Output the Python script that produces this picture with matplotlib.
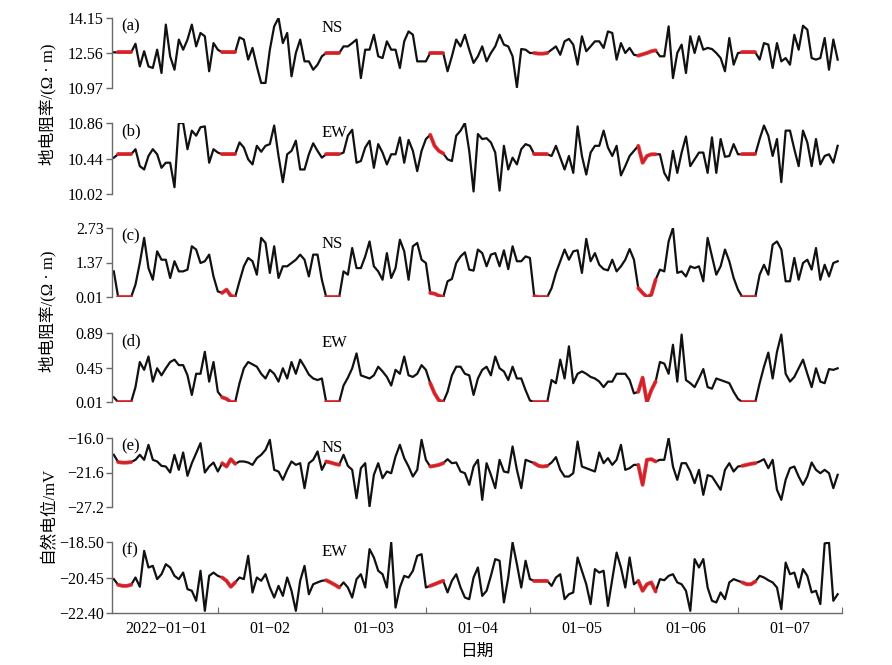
import pandas as pd
import matplotlib
matplotlib.use("Agg")
import matplotlib.pyplot as plt

plt.rcParams['font.family'] = ['Liberation Serif', 'Noto Sans CJK SC']

# hourly readings, 2022-01-01 00:00 .. 2022-01-07 23:00 (one row per day)
ns_rho = [
    12.59, 12.59, 12.59, 12.59, 12.59, 12.98, 11.95, 12.64, 11.95, 11.88, 12.71, 11.65, 13.85, 12.41, 11.80, 13.17, 12.71, 13.17, 13.85, 12.86, 13.47, 13.32, 11.73, 13.01,
    12.71, 12.59, 12.59, 12.59, 12.59, 13.27, 13.17, 12.26, 12.79, 11.95, 11.20, 11.20, 12.71, 13.77, 14.15, 13.01, 13.47, 11.50, 12.56, 13.17, 12.18, 12.18, 11.80, 12.03,
    12.41, 12.56, 12.56, 12.56, 12.56, 12.86, 12.86, 13.01, 13.17, 11.42, 12.71, 12.71, 13.39, 12.41, 12.33, 13.09, 12.71, 12.71, 11.88, 13.09, 13.54, 13.39, 12.18, 12.18,
    12.18, 12.56, 12.56, 12.56, 12.56, 11.73, 12.41, 13.17, 12.86, 13.39, 12.71, 12.11, 12.41, 12.86, 12.18, 12.56, 12.86, 13.39, 12.94, 12.86, 12.41, 11.00, 12.74, 12.71,
    12.56, 12.56, 12.53, 12.53, 12.56, 12.71, 12.86, 12.48, 13.09, 13.20, 12.94, 12.03, 13.32, 12.64, 12.86, 13.09, 13.09, 12.79, 13.54, 13.47, 12.26, 13.01, 12.56, 12.79,
    12.48, 12.44, 12.50, 12.56, 12.64, 12.68, 12.41, 12.41, 13.77, 11.42, 12.56, 12.94, 11.65, 13.32, 12.56, 13.32, 12.71, 12.79, 12.74, 12.56, 12.33, 11.73, 13.24, 12.03,
    12.56, 12.59, 12.59, 12.59, 12.59, 12.26, 13.01, 12.94, 11.88, 13.01, 12.18, 12.33, 12.03, 13.39, 12.71, 13.80, 13.62, 12.33, 12.26, 12.33, 13.24, 11.80, 13.17, 12.26,
]
ew_rho = [
    10.45, 10.49, 10.49, 10.49, 10.49, 10.55, 10.35, 10.31, 10.47, 10.55, 10.49, 10.33, 10.39, 10.39, 10.10, 10.86, 10.86, 10.55, 10.77, 10.71, 10.81, 10.82, 10.39, 10.55,
    10.51, 10.49, 10.49, 10.49, 10.49, 10.63, 10.57, 10.43, 10.37, 10.59, 10.52, 10.59, 10.61, 10.83, 10.47, 10.16, 10.49, 10.53, 10.65, 10.31, 10.31, 10.49, 10.62, 10.53,
    10.45, 10.49, 10.49, 10.49, 10.49, 10.51, 10.71, 10.78, 10.39, 10.41, 10.57, 10.65, 10.33, 10.61, 10.51, 10.37, 10.49, 10.49, 10.69, 10.39, 10.66, 10.53, 10.29, 10.53,
    10.67, 10.72, 10.59, 10.53, 10.50, 10.43, 10.41, 10.71, 10.77, 10.86, 10.53, 10.05, 10.73, 10.67, 10.68, 10.63, 10.51, 10.06, 10.59, 10.31, 10.45, 10.37, 10.55, 10.61,
    10.59, 10.49, 10.49, 10.49, 10.49, 10.47, 10.59, 10.45, 10.31, 10.47, 10.27, 10.82, 10.47, 10.25, 10.51, 10.59, 10.59, 10.77, 10.57, 10.47, 10.59, 10.24, 10.35, 10.47,
    10.53, 10.59, 10.39, 10.47, 10.49, 10.49, 10.49, 10.27, 10.18, 10.53, 10.27, 10.51, 10.70, 10.35, 10.43, 10.51, 10.51, 10.27, 10.69, 10.27, 10.67, 10.46, 10.47, 10.61,
    10.49, 10.49, 10.49, 10.49, 10.49, 10.67, 10.83, 10.71, 10.47, 10.67, 10.16, 10.77, 10.77, 10.55, 10.35, 10.77, 10.63, 10.35, 10.67, 10.37, 10.47, 10.49, 10.39, 10.59,
]
ns_rho2 = [
    1.02, 0.01, 0.01, 0.01, 0.01, 0.50, 1.35, 2.34, 1.15, 0.69, 1.81, 1.48, 1.48, 0.76, 1.42, 1.02, 1.02, 1.09, 2.01, 1.88, 1.35, 1.42, 1.68, 0.82,
    0.23, 0.17, 0.30, 0.06, 0.01, 0.63, 1.22, 1.55, 1.42, 0.89, 2.34, 2.14, 0.96, 2.01, 0.76, 1.22, 1.22, 1.35, 1.48, 1.68, 1.48, 0.82, 1.68, 1.68,
    0.69, 0.01, 0.01, 0.01, 0.01, 1.02, 0.89, 1.94, 1.15, 1.15, 1.61, 2.20, 1.22, 1.02, 0.69, 1.74, 0.76, 1.15, 2.27, 1.81, 0.69, 2.01, 2.14, 1.48,
    1.35, 0.17, 0.14, 0.06, 0.01, 0.63, 0.72, 1.35, 1.61, 1.77, 1.09, 1.05, 1.88, 1.74, 1.22, 1.68, 1.74, 1.22, 1.85, 1.11, 2.01, 1.42, 1.42, 1.61,
    1.55, 0.04, 0.01, 0.01, 0.01, 0.36, 0.96, 1.42, 1.88, 1.48, 1.81, 1.85, 0.96, 2.30, 1.42, 1.74, 1.28, 1.11, 1.06, 1.48, 1.02, 1.22, 1.48, 1.90,
    1.48, 0.36, 0.17, 0.01, 0.10, 0.69, 1.09, 1.02, 2.20, 2.73, 0.96, 1.02, 0.82, 1.22, 1.15, 1.22, 0.63, 2.34, 1.61, 0.89, 1.22, 1.88, 1.42, 0.76,
    0.30, 0.01, 0.01, 0.01, 0.01, 0.89, 1.28, 0.89, 2.07, 2.20, 1.88, 0.63, 0.63, 1.55, 0.69, 1.35, 1.48, 1.09, 1.94, 0.69, 1.28, 0.82, 1.35, 1.42,
]
ew_rho2 = [
    0.07, 0.01, 0.01, 0.01, 0.01, 0.20, 0.52, 0.42, 0.59, 0.27, 0.44, 0.35, 0.44, 0.52, 0.55, 0.48, 0.48, 0.35, 0.10, 0.37, 0.37, 0.65, 0.27, 0.52,
    0.14, 0.07, 0.05, 0.01, 0.01, 0.25, 0.44, 0.52, 0.49, 0.46, 0.37, 0.31, 0.42, 0.37, 0.27, 0.44, 0.31, 0.52, 0.37, 0.55, 0.46, 0.36, 0.31, 0.29,
    0.31, 0.01, 0.01, 0.01, 0.01, 0.22, 0.32, 0.44, 0.63, 0.35, 0.33, 0.31, 0.35, 0.46, 0.40, 0.33, 0.22, 0.42, 0.37, 0.59, 0.35, 0.33, 0.37, 0.48,
    0.42, 0.25, 0.12, 0.03, 0.01, 0.14, 0.35, 0.46, 0.46, 0.37, 0.35, 0.10, 0.31, 0.42, 0.46, 0.35, 0.59, 0.44, 0.40, 0.29, 0.46, 0.31, 0.31, 0.16,
    0.03, 0.01, 0.01, 0.01, 0.01, 0.29, 0.25, 0.55, 0.31, 0.72, 0.25, 0.37, 0.40, 0.37, 0.33, 0.31, 0.27, 0.20, 0.27, 0.27, 0.37, 0.37, 0.37, 0.29,
    0.12, 0.14, 0.32, 0.01, 0.16, 0.27, 0.52, 0.50, 0.37, 0.74, 0.27, 0.87, 0.29, 0.25, 0.20, 0.31, 0.43, 0.20, 0.18, 0.31, 0.29, 0.27, 0.25, 0.14,
    0.05, 0.01, 0.01, 0.01, 0.01, 0.25, 0.46, 0.64, 0.31, 0.65, 0.87, 0.37, 0.27, 0.33, 0.44, 0.55, 0.37, 0.20, 0.44, 0.27, 0.25, 0.43, 0.42, 0.44,
]
ns_sp = [
    -18.73, -19.90, -20.00, -20.00, -19.90, -19.54, -18.73, -19.54, -17.11, -19.54, -19.81, -20.52, -20.63, -21.60, -18.73, -21.17, -18.35, -22.14, -20.09, -18.46, -16.84, -21.60, -20.63, -19.98,
    -21.44, -20.09, -20.63, -19.44, -20.19, -19.81, -19.81, -19.98, -20.36, -19.27, -18.73, -17.92, -16.30, -21.17, -21.44, -22.79, -21.17, -19.81, -20.36, -20.09, -24.14, -20.09, -19.54, -18.19,
    -21.17, -19.81, -19.98, -20.19, -20.36, -18.73, -20.52, -21.17, -25.77, -20.90, -20.09, -27.12, -21.98, -20.09, -22.52, -21.44, -21.71, -19.00, -17.11, -19.27, -20.63, -22.25, -21.17, -16.30,
    -19.54, -20.63, -20.52, -20.36, -20.09, -19.44, -20.09, -19.98, -21.44, -21.71, -23.60, -20.63, -19.54, -26.04, -20.09, -21.98, -24.14, -19.54, -21.44, -21.60, -17.38, -21.17, -24.14, -19.54,
    -19.81, -20.09, -20.52, -20.63, -20.52, -19.98, -19.11, -21.17, -22.25, -22.25, -21.71, -16.57, -20.63, -20.90, -21.17, -21.44, -18.35, -20.09, -19.27, -20.36, -19.54, -17.11, -21.17, -20.90,
    -20.36, -20.36, -23.60, -19.54, -19.44, -19.81, -19.54, -19.54, -16.03, -20.63, -22.79, -20.09, -20.09, -21.44, -23.33, -21.17, -25.22, -22.03, -22.25, -23.33, -24.41, -21.17, -20.09, -21.44,
    -20.63, -20.52, -20.36, -20.19, -20.09, -19.81, -19.44, -20.90, -19.54, -24.41, -26.04, -22.79, -20.90, -20.63, -22.25, -23.60, -22.25, -19.98, -21.17, -21.71, -21.17, -21.71, -24.14, -21.98,
]
ew_sp = [
    -20.54, -20.85, -20.91, -20.91, -20.85, -20.45, -20.96, -18.99, -19.90, -19.81, -20.54, -20.27, -19.72, -19.90, -20.36, -20.54, -20.18, -21.09, -21.18, -21.73, -20.08, -22.28, -20.36, -20.18,
    -20.36, -20.45, -20.63, -20.96, -20.72, -20.45, -20.54, -19.26, -21.27, -20.45, -20.63, -20.27, -21.00, -21.55, -20.91, -21.46, -20.45, -21.18, -22.28, -20.63, -19.81, -21.37, -20.82, -20.72,
    -20.63, -20.60, -20.72, -20.85, -21.00, -20.72, -21.00, -21.55, -20.54, -20.27, -21.00, -18.89, -19.35, -20.08, -20.27, -21.00, -18.53, -22.10, -21.00, -20.36, -20.45, -20.08, -19.26, -19.17,
    -21.00, -20.91, -20.82, -20.72, -20.63, -21.27, -20.63, -20.27, -21.00, -21.55, -21.64, -20.45, -19.90, -21.46, -21.18, -20.36, -19.44, -19.53, -21.82, -20.45, -18.53, -19.72, -21.00, -19.53,
    -20.54, -20.63, -20.63, -20.63, -20.63, -20.91, -20.45, -20.27, -21.64, -21.37, -21.27, -19.35, -20.08, -20.82, -21.91, -19.99, -20.18, -20.08, -22.01, -20.54, -19.08, -19.90, -21.00, -19.35,
    -20.82, -20.63, -21.18, -20.82, -20.72, -21.22, -20.54, -20.60, -20.36, -20.27, -20.72, -20.82, -21.18, -22.28, -19.44, -19.90, -19.44, -21.00, -21.73, -21.82, -21.27, -21.64, -20.72, -20.54,
    -20.63, -20.72, -20.82, -20.82, -20.67, -20.36, -20.45, -20.60, -20.72, -21.00, -22.19, -19.63, -20.27, -20.18, -21.00, -19.99, -20.36, -21.27, -21.18, -21.91, -18.58, -18.53, -21.73, -21.37,
]

# highlighted (night-time) windows, first and last hour index
red_windows = [(1, 4), (25, 28), (49, 52), (73, 76), (97, 100), (121, 125), (145, 148)]

series = [ns_rho, ew_rho, ns_rho2, ew_rho2, ns_sp, ew_sp]
panel_tags = ["(a)", "(b)", "(c)", "(d)", "(e)", "(f)"]
directions = ["NS", "EW", "NS", "EW", "NS", "EW"]
yticks = [
    [10.97, 12.56, 14.15],
    [10.02, 10.44, 10.86],
    [0.01, 1.37, 2.73],
    [0.01, 0.45, 0.89],
    [-27.2, -21.6, -16.0],
    [-22.40, -20.45, -18.50],
]
ytick_labels = [
    ["10.97", "12.56", "14.15"],
    ["10.02", "10.44", "10.86"],
    ["0.01", "1.37", "2.73"],
    ["0.01", "0.45", "0.89"],
    ["−27.2", "−21.6", "−16.0"],
    ["−22.40", "−20.45", "−18.50"],
]
day_labels = ["2022−01−01", "01−02", "01−03", "01−04", "01−05", "01−06", "01−07"]

times = pd.date_range("2022-01-01 00:00", periods=168, freq="h")
day_edges = pd.date_range("2022-01-02", periods=7, freq="D")
day_noons = pd.date_range("2022-01-01 12:00", periods=7, freq="D")

# axes placement in pixels (top, bottom) of an 892x665 figure
W, H = 892, 665
panel_px = [(18, 88), (123, 194), (228, 297), (333, 402), (438, 507), (542, 613)]
left_px, right_px = 112, 842

spine_col = "#6a6a6a"
fig = plt.figure(figsize=(W / 100, H / 100), dpi=100)

axes = []
for i, vals in enumerate(series):
    top, bot = panel_px[i]
    ax = fig.add_axes([left_px / W, 1 - bot / H, (right_px - left_px) / W, (bot - top) / H])
    ax.plot(times, vals, color="#111111", lw=1.6, solid_joinstyle="round")
    for s, e in red_windows:
        ax.plot(times[s:e + 1], vals[s:e + 1], color="#e3242b", lw=2.8,
                solid_capstyle="round", alpha=0.9)
    ax.set_xlim(pd.Timestamp("2021-12-31 23:35"), pd.Timestamp("2022-01-08 00:00"))
    ax.set_ylim(yticks[i][0], yticks[i][-1])
    ax.set_yticks(yticks[i])
    ax.set_yticklabels(ytick_labels[i], fontsize=11.5)
    ax.tick_params(axis="y", direction="out", length=4, width=1, color=spine_col, pad=2)
    for sp in ["top", "right", "bottom"]:
        ax.spines[sp].set_visible(False)
    ax.spines["left"].set_color(spine_col)
    ax.spines["left"].set_linewidth(1.0)
    ax.text(0.012, 0.99, panel_tags[i], transform=ax.transAxes, fontsize=12,
            ha="left", va="top")
    ax.text(0.287, 0.97 if i != 2 else 0.88, directions[i], transform=ax.transAxes,
            fontsize=12, ha="left", va="top")
    if i < 5:
        ax.set_xticks([])
    axes.append(ax)

ax = axes[-1]
ax.spines["bottom"].set_visible(True)
ax.spines["bottom"].set_color(spine_col)
ax.spines["bottom"].set_linewidth(1.0)
ax.set_xticks(day_edges)
ax.set_xticklabels([])
ax.set_xticks(day_noons, minor=True)
ax.set_xticklabels(day_labels, minor=True, fontsize=11.5)
ax.tick_params(axis="x", which="major", direction="in", length=4, color=spine_col)
ax.tick_params(axis="x", which="minor", length=0, pad=6)
ax.set_xlabel("日期", fontsize=12, labelpad=5)

fig.text(48 / W, 1 - 104 / H, "地电阻率/(Ω · m)", rotation=90, ha="center", va="center", fontsize=12)
fig.text(48 / W, 1 - 311 / H, "地电阻率/(Ω · m)", rotation=90, ha="center", va="center", fontsize=12)
fig.text(48 / W, 1 - 515 / H, "自然电位/mV", rotation=90, ha="center", va="center", fontsize=12)

fig.savefig("out.png", dpi=100)
